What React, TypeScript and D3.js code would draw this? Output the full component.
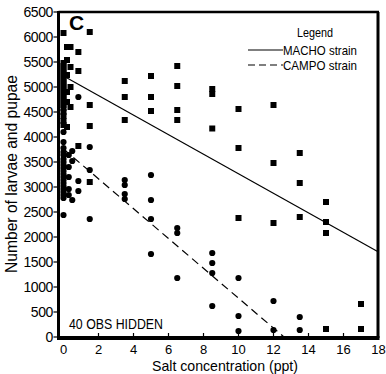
import React from "react";
import * as d3 from "d3";

// MACHO strain observations [salt ppt, count]
const machoPoints: [number, number][] = [
  [0, 6080], [0, 5480], [0, 5420], [0, 5360], [0, 5300], [0, 5240], [0, 5180], [0, 5120],
  [0, 5060], [0, 5000], [0, 4940], [0, 4880], [0, 4820], [0, 4760], [0, 4700], [0, 4640],
  [0, 4580], [0, 4500], [0, 4420], [0, 4320], [0, 4240],
  [0.2, 5800], [0.2, 5540], [0.2, 5240], [0.2, 4900], [0.2, 4700], [0.2, 4200],
  [0.4, 5800], [0.4, 5400], [0.4, 5000], [0.4, 4600],
  [0.85, 5700], [0.85, 5320], [0.85, 3820],
  [1.5, 6100], [1.5, 4640], [1.5, 4220], [1.5, 3100],
  [3.5, 5120], [3.5, 4800], [3.5, 4340],
  [5, 5220], [5, 4800], [5, 4520],
  [6.5, 5420], [6.5, 5020], [6.5, 4540], [6.5, 4340],
  [8.5, 4960], [8.5, 4860], [8.5, 4170],
  [10, 4560], [10, 3780], [10, 2380],
  [12, 4640], [12, 3480], [12, 2280],
  [13.5, 3680], [13.5, 3080], [13.5, 2400],
  [15, 2700], [15, 2300], [15, 2080], [15, 160],
  [17, 660], [17, 160],
];

// CAMPO strain observations [salt ppt, count]
const campoPoints: [number, number][] = [
  [0, 4100], [0, 3900], [0, 3780], [0, 3700], [0, 3640], [0, 3560], [0, 3500], [0, 3440],
  [0, 3380], [0, 3320], [0, 3260], [0, 3200], [0, 3140], [0, 3080], [0, 3020], [0, 2960],
  [0, 2900], [0, 2840], [0, 2780], [0, 2440],
  [0.3, 3640], [0.3, 3400], [0.3, 3200], [0.3, 2960], [0.3, 2840],
  [0.5, 3720], [0.5, 3520], [0.5, 2740],
  [0.85, 4800], [0.85, 3120], [0.85, 2920],
  [1.5, 3800], [1.5, 3340], [1.5, 2360],
  [3.5, 3140], [3.5, 3040], [3.5, 2860], [3.5, 2760],
  [5, 3240], [5, 2740], [5, 2360], [5, 1660],
  [6.5, 2180], [6.5, 2080], [6.5, 1180],
  [8.5, 1680], [8.5, 1480], [8.5, 1280], [8.5, 620],
  [10, 1180], [10, 420], [10, 120],
  [12, 720], [12, 140],
  [13.5, 400], [13.5, 140],
];

// Fitted regression lines (endpoints)
const machoLine: [number, number][] = [[0, 5220], [18, 1700]];
const campoLine: [number, number][] = [[0, 3760], [12.6, 0]];

const xTicks = [0, 2, 4, 6, 8, 10, 12, 14, 16, 18];
const yTicks = [0, 500, 1000, 1500, 2000, 2500, 3000, 3500, 4000, 4500, 5000, 5500, 6000, 6500];

const FONT = "'Liberation Sans', Arial, sans-serif";

export default function App() {
  const x = d3.scaleLinear().domain([0, 18]).range([63.5, 378.5]);
  const y = d3.scaleLinear().domain([0, 6500]).range([337, 12]);
  const line = d3.line<[number, number]>().x((d) => x(d[0])).y((d) => y(d[1]));
  const left = 58.5;
  const right = 378;
  const top = 12;
  const bottom = 338;

  return (
    <svg
      width={386}
      height={374}
      style={{ position: "absolute", left: 0, top: 0, background: "#fff" }}
      fontFamily={FONT}
    >
      <rect width={386} height={374} fill="#fff" />
      {/* regression lines */}
      <path d={line(machoLine) || ""} stroke="#000" strokeWidth={1.2} fill="none" />
      <path d={line(campoLine) || ""} stroke="#000" strokeWidth={1.2} fill="none" strokeDasharray="8,5" />
      {/* points */}
      {machoPoints.map((d, i) => (
        <rect key={"m" + i} x={x(d[0]) - 3} y={y(d[1]) - 3} width={6} height={6} fill="#000" />
      ))}
      {campoPoints.map((d, i) => (
        <circle key={"c" + i} cx={x(d[0])} cy={y(d[1])} r={3.1} fill="#000" />
      ))}
      {/* frame */}
      <line x1={left} x2={right + 1} y1={top} y2={top} stroke="#000" strokeWidth={2.5} />
      <line x1={right} x2={right} y1={top} y2={bottom} stroke="#000" strokeWidth={3} />
      <line x1={left} x2={left} y1={top - 1} y2={bottom + 1} stroke="#000" strokeWidth={3} />
      <line x1={left - 1.5} x2={right + 1.5} y1={bottom} y2={bottom} stroke="#000" strokeWidth={4} />
      {/* y ticks */}
      {yTicks.map((t) => (
        <g key={"yt" + t}>
          <line x1={left - 5} x2={left} y1={y(t)} y2={y(t)} stroke="#000" strokeWidth={1.2} />
          <text x={53} y={y(t)} dy="0.36em" textAnchor="end" fontSize={14} letterSpacing={-0.4}>
            {t}
          </text>
        </g>
      ))}
      {/* x ticks */}
      {xTicks.map((t) => (
        <g key={"xt" + t}>
          {t > 0 && t < 18 && (
            <line x1={x(t)} x2={x(t)} y1={bottom} y2={bottom - 5} stroke="#000" strokeWidth={1.2} />
          )}
          <text x={x(t)} y={354} textAnchor="middle" fontSize={13}>
            {t}
          </text>
        </g>
      ))}
      {/* axis titles */}
      <text
        transform="translate(17,174) rotate(-90)"
        textAnchor="middle"
        fontSize={16}
        textLength={198}
        lengthAdjust="spacingAndGlyphs"
      >
        Number of larvae and pupae
      </text>
      <text x={225} y={371} textAnchor="middle" fontSize={15} textLength={146} lengthAdjust="spacingAndGlyphs">
        Salt concentration (ppt)
      </text>
      {/* panel letter */}
      <text x={69} y={30} fontSize={21} fontWeight="bold">C</text>
      {/* hidden obs note */}
      <text x={69} y={329} fontSize={14} textLength={94} lengthAdjust="spacingAndGlyphs">
        40 OBS HIDDEN
      </text>
      {/* legend */}
      <text x={297} y={37} fontSize={13} textLength={36} lengthAdjust="spacingAndGlyphs">Legend</text>
      <line x1={248} x2={283} y1={50} y2={50} stroke="#000" strokeWidth={1.2} />
      <text x={283} y={55} fontSize={13} textLength={74} lengthAdjust="spacingAndGlyphs">MACHO strain</text>
      <line x1={248} x2={283} y1={65} y2={65} stroke="#000" strokeWidth={1.2} strokeDasharray="7,4" />
      <text x={283} y={70} fontSize={13} textLength={74} lengthAdjust="spacingAndGlyphs">CAMPO strain</text>
    </svg>
  );
}
